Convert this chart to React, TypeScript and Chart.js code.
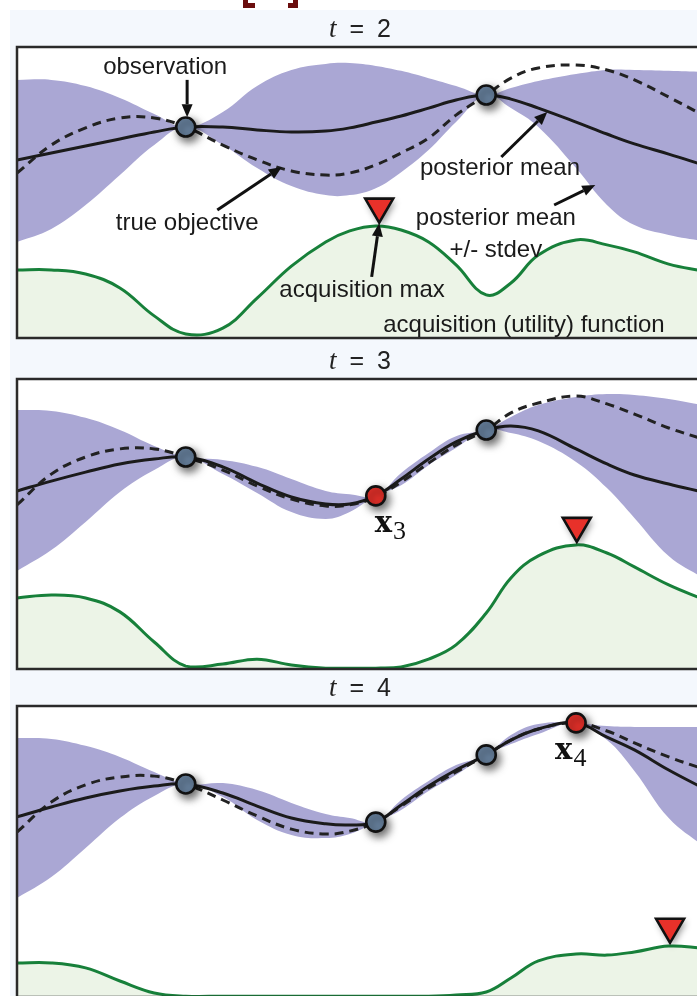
import React, { useEffect, useRef } from "react";
import { Chart, registerables } from "chart.js";

Chart.register(...registerables);

// ---------- data (x: 0..100 across panel, y: 0..100 bottom..top) ----------
const xGrid = [0, 5, 10, 15, 20, 24.6, 30, 35, 40, 45, 48.5, 52.3, 56, 60, 64, 68.4, 72, 76, 81.5, 86, 90, 95, 100];

// t = 2
const p1Upper = [88.7, 88.7, 86.6, 82.5, 77.0, 72.5, 77.7, 86.6, 92.1, 94.2, 94.5, 93.5, 91.8, 89.3, 86.6, 83.5, 85.9, 88.3, 90.7, 92.1, 92.1, 91.8, 91.4];
const p1Lower = [33.0, 37.5, 45.7, 56.0, 66.3, 72.5, 66.3, 58.4, 52.2, 49.1, 49.1, 51.5, 57.0, 64.6, 74.2, 83.5, 79.0, 72.5, 58.4, 45.7, 38.8, 35.4, 33.3];
const p1Mean = [61.2, 63.6, 66.0, 68.4, 70.8, 72.5, 72.5, 71.5, 70.8, 71.1, 72.2, 74.2, 76.3, 79.0, 81.8, 83.5, 82.1, 79.0, 74.2, 70.1, 66.7, 63.2, 59.5];
const p1True = [56.7, 66.3, 72.2, 75.6, 75.6, 72.5, 66.3, 61.2, 57.4, 56.0, 56.7, 59.5, 63.6, 68.7, 76.6, 83.5, 89.3, 92.8, 93.8, 92.1, 88.7, 82.8, 76.6];
const p1Acq = [23.4, 23.4, 22.0, 17.2, 7.6, 1.4, 3.4, 13.7, 24.7, 33.0, 36.8, 38.5, 37.1, 33.0, 25.1, 14.8, 18.9, 28.5, 33.7, 32.0, 29.6, 25.4, 23.0];
const p1ObsX = [24.6, 68.4];
const p1ObsY = [72.5, 83.5];
const p1AcqMax = { x: 52.8, y: 38.6 };

// t = 3
const p2Upper = [89.3, 89.0, 86.6, 82.4, 76.9, 73.1, 72.1, 69.7, 65.5, 61.4, 60.3, 59.7, 67.6, 74.5, 80.3, 82.4, 86.9, 91.0, 93.8, 94.8, 94.5, 93.1, 91.0];
const p2Lower = [33.8, 41.0, 50.7, 61.0, 68.6, 73.1, 67.2, 60.7, 54.1, 51.7, 54.1, 59.7, 63.4, 70.3, 76.2, 82.4, 81.4, 78.6, 71.4, 62.4, 52.1, 39.0, 31.4];
const p2Mean = [61.4, 64.8, 67.9, 70.7, 72.4, 73.1, 69.7, 64.1, 59.3, 56.9, 56.9, 59.7, 65.5, 72.4, 78.3, 82.4, 83.8, 82.1, 75.9, 70.7, 66.9, 63.8, 61.0];
const p2True = [56.6, 67.2, 73.1, 75.9, 75.9, 73.1, 68.6, 63.1, 58.6, 56.2, 56.6, 59.3, 64.5, 71.0, 77.2, 82.4, 88.3, 91.7, 94.1, 91.4, 87.9, 83.1, 79.3];
const p2Acq = [24.5, 25.5, 24.5, 19.7, 9.3, 1.0, 1.7, 3.4, 1.4, 0.3, 0.3, 0.3, 0.7, 3.4, 8.3, 19.3, 31.4, 39.0, 42.8, 40.0, 35.2, 29.0, 24.1];
const p2ObsX = [24.6, 52.3, 68.4];
const p2ObsY = [73.1, 59.7, 82.4];
const p2AcqMax = { x: 81.6, y: 42.8 };

// t = 4
const p3Upper = [89.0, 88.7, 86.3, 82.5, 77.3, 73.2, 73.5, 71.1, 66.7, 62.9, 61.5, 60.1, 67.7, 74.2, 79.7, 83.2, 90.0, 93.8, 94.2, 93.1, 92.8, 92.8, 92.8];
const p3Lower = [34.0, 41.2, 51.2, 61.5, 69.1, 73.2, 68.7, 60.8, 55.7, 54.6, 56.0, 60.1, 64.3, 70.8, 76.3, 83.2, 86.9, 90.4, 94.2, 88.3, 77.7, 61.5, 51.9];
const p3Mean = [61.9, 65.3, 68.4, 70.8, 72.5, 73.2, 70.1, 65.6, 61.5, 59.5, 59.1, 60.1, 66.0, 72.5, 78.0, 83.2, 88.3, 92.1, 94.2, 89.3, 84.9, 78.0, 71.8];
const p3True = [56.7, 67.0, 72.9, 75.6, 75.9, 73.2, 67.7, 62.2, 57.7, 56.0, 57.0, 60.1, 65.6, 71.8, 77.3, 83.2, 88.3, 92.1, 94.2, 91.4, 87.3, 82.5, 78.4];
const p3Acq = [11.7, 11.7, 10.0, 5.5, 1.4, 0.3, 0.3, 0.3, 0.3, 0.3, 0.3, 0.3, 0.3, 0.3, 0.7, 1.7, 6.5, 12.4, 14.8, 14.4, 15.5, 17.5, 16.8];
const p3ObsX = [24.6, 52.3, 68.4, 81.5];
const p3ObsY = [73.2, 60.1, 83.2, 94.2];
const p3AcqMax = { x: 95.2, y: 17.6 };

const titles = ["2", "3", "4"];
const newLabels = ["", "3", "4"];

// annotation texts of first panel (anchored in data units)
const p1Texts = [
  { text: "observation", x: 21.6, y: 93.1 },
  { text: "true objective", x: 24.8, y: 39.5 },
  { text: "posterior mean", x: 70.4, y: 58.4 },
  { text: "posterior mean", x: 69.8, y: 41.2 },
  { text: "+/- stdev", x: 69.8, y: 30.2 },
  { text: "acquisition max", x: 50.3, y: 16.5 },
  { text: "acquisition (utility) function", x: 73.9, y: 4.5 },
];
const p1Arrows = [
  { from: [24.8, 88.7], to: [24.8, 75.9] },
  { from: [29.2, 44.0], to: [38.6, 58.8] },
  { from: [70.6, 62.2], to: [77.3, 77.7] },
  { from: [78.3, 45.7], to: [84.3, 52.6] },
  { from: [51.7, 21.0], to: [52.8, 39.4] },
];

// ---------- styles ----------
const PURPLE = "#aaa7d4";
const GREEN = "#17803a";
const GREEN_FILL = "#ecf4e7";
const OBS = "#6983a0";
const NEW = "#e8312a";
const INK = "#1b1b1b";
const SANS = '"Liberation Sans", Arial, sans-serif';

type PanelSpec = {
  title: string;
  upper: number[];
  lower: number[];
  mean: number[];
  truth: number[];
  acq: number[];
  obsX: number[];
  obsY: number[];
  newIndex: number;
  newLabel: string;
  labelDx: number;
  acqMax: { x: number; y: number };
  texts: { text: string; x: number; y: number }[];
  arrows: { from: number[]; to: number[] }[];
  top: number;
  padTop: number;
  padBottom: number;
};

const panels: PanelSpec[] = [
  { title: titles[0], upper: p1Upper, lower: p1Lower, mean: p1Mean, truth: p1True, acq: p1Acq, obsX: p1ObsX, obsY: p1ObsY, newIndex: -1, newLabel: newLabels[0], labelDx: 0, acqMax: p1AcqMax, texts: p1Texts, arrows: p1Arrows, top: 12, padTop: 35, padBottom: 4 },
  { title: titles[1], upper: p2Upper, lower: p2Lower, mean: p2Mean, truth: p2True, acq: p2Acq, obsX: p2ObsX, obsY: p2ObsY, newIndex: 1, newLabel: newLabels[1], labelDx: -1, acqMax: p2AcqMax, texts: [], arrows: [], top: 345, padTop: 34, padBottom: 6 },
  { title: titles[2], upper: p3Upper, lower: p3Lower, mean: p3Mean, truth: p3True, acq: p3Acq, obsX: p3ObsX, obsY: p3ObsY, newIndex: 3, newLabel: newLabels[2], labelDx: -21, acqMax: p3AcqMax, texts: [], arrows: [], top: 672, padTop: 34, padBottom: 5 },
];

const CANVAS_W = 700;
const CANVAS_H = 330;

function pts(xs: number[], ys: number[]) {
  return xs.map((x, i) => ({ x, y: ys[i] }));
}

function drawArrow(ctx: CanvasRenderingContext2D, x1: number, y1: number, x2: number, y2: number) {
  const ang = Math.atan2(y2 - y1, x2 - x1);
  const head = 13;
  const half = 5.5;
  const bx = x2 - head * Math.cos(ang);
  const by = y2 - head * Math.sin(ang);
  ctx.beginPath();
  ctx.moveTo(x1, y1);
  ctx.lineTo(bx, by);
  ctx.lineWidth = 3;
  ctx.strokeStyle = "#111";
  ctx.stroke();
  ctx.beginPath();
  ctx.moveTo(x2, y2);
  ctx.lineTo(bx + half * Math.sin(ang), by - half * Math.cos(ang));
  ctx.lineTo(bx - half * Math.sin(ang), by + half * Math.cos(ang));
  ctx.closePath();
  ctx.fillStyle = "#111";
  ctx.fill();
}

function makeDecor(p: PanelSpec) {
  return {
    id: "decor",
    beforeDraw(chart: any) {
      const { ctx, chartArea: a } = chart;
      ctx.save();
      ctx.fillStyle = "#ffffff";
      ctx.fillRect(a.left, a.top, a.right - a.left, a.bottom - a.top);
      ctx.restore();
    },
    beforeDatasetDraw(chart: any, args: any) {
      const ds = chart.data.datasets[args.index];
      if (ds.shadow) {
        const ctx = chart.ctx;
        ctx.save();
        ctx.shadowColor = "rgba(0,0,0,0.6)";
        ctx.shadowBlur = 9;
        ctx.shadowOffsetX = 3;
        ctx.shadowOffsetY = 4;
      }
    },
    afterDatasetDraw(chart: any, args: any) {
      const ds = chart.data.datasets[args.index];
      if (ds.shadow) chart.ctx.restore();
    },
    afterDatasetsDraw(chart: any) {
      const { ctx, chartArea: a, scales } = chart;
      const X = (v: number) => scales.x.getPixelForValue(v);
      const Y = (v: number) => scales.y.getPixelForValue(v);

      // acquisition max marker
      const tx = X(p.acqMax.x);
      const ty = Y(p.acqMax.y) - 3;
      ctx.save();
      ctx.shadowColor = "rgba(0,0,0,0.45)";
      ctx.shadowBlur = 7;
      ctx.shadowOffsetX = 2;
      ctx.shadowOffsetY = 3;
      ctx.beginPath();
      ctx.moveTo(tx, ty);
      ctx.lineTo(tx - 14, ty - 24);
      ctx.lineTo(tx + 14, ty - 24);
      ctx.closePath();
      ctx.fillStyle = NEW;
      ctx.fill();
      ctx.shadowColor = "transparent";
      ctx.lineWidth = 2.6;
      ctx.lineJoin = "miter";
      ctx.strokeStyle = "#111";
      ctx.stroke();
      ctx.restore();

      // frame
      ctx.save();
      ctx.strokeStyle = "#2a2a2a";
      ctx.lineWidth = 2.5;
      ctx.strokeRect(a.left, a.top, a.right - a.left, a.bottom - a.top);
      ctx.restore();

      // title "t = n"
      ctx.save();
      ctx.fillStyle = "#222";
      ctx.textBaseline = "alphabetic";
      const base = a.top - 10;
      const cx = (a.left + a.right) / 2;
      const fT = 'italic 27px "Liberation Serif", serif';
      const fS = "25px " + SANS;
      ctx.font = fT;
      const wT = ctx.measureText("t").width;
      ctx.font = fS;
      const wE = ctx.measureText("=").width;
      const wN = ctx.measureText(p.title).width;
      const gap = 13;
      const total = wT + gap + wE + gap + wN;
      let x0 = cx - total / 2;
      ctx.font = fT;
      ctx.fillText("t", x0, base);
      x0 += wT + gap;
      ctx.font = fS;
      ctx.fillText("=", x0, base);
      x0 += wE + gap;
      ctx.fillText(p.title, x0, base);
      ctx.restore();

      // new point label x_t
      if (p.newIndex >= 0) {
        const px = X(p.obsX[p.newIndex]);
        const py = Y(p.obsY[p.newIndex]);
        ctx.save();
        ctx.fillStyle = "#111";
        ctx.textBaseline = "alphabetic";
        ctx.font = 'bold 29px "DejaVu Serif", serif';
        const lx = px + p.labelDx;
        ctx.fillText("x", lx, py + 36);
        const wx = ctx.measureText("x").width;
        ctx.font = '26px "Liberation Serif", serif';
        ctx.fillText(p.newLabel, lx + wx + 1, py + 43);
        ctx.restore();
      }

      // annotations
      ctx.save();
      for (const ar of p.arrows) {
        drawArrow(ctx, X(ar.from[0]), Y(ar.from[1]), X(ar.to[0]), Y(ar.to[1]));
      }
      ctx.fillStyle = "#1a1a1a";
      ctx.font = "24px " + SANS;
      ctx.textAlign = "center";
      ctx.textBaseline = "middle";
      for (const t of p.texts) {
        ctx.fillText(t.text, X(t.x), Y(t.y));
      }
      ctx.restore();
    },
  };
}

function Panel({ p }: { p: PanelSpec }) {
  const ref = useRef<HTMLCanvasElement | null>(null);
  useEffect(() => {
    if (!ref.current) return;
    const common = { pointRadius: 0, tension: 0.4 };
    const obsColors = p.obsX.map((_, i) => (i === p.newIndex ? NEW : OBS));
    const chart = new Chart(ref.current, {
      type: "line",
      data: {
        datasets: [
          { ...common, label: "upper", data: pts(xGrid, p.upper), borderWidth: 0, borderColor: PURPLE, backgroundColor: PURPLE, fill: "+1", order: 6 },
          { ...common, label: "lower", data: pts(xGrid, p.lower), borderWidth: 0, borderColor: PURPLE, fill: false, order: 5 },
          { ...common, label: "acquisition", data: pts(xGrid, p.acq), borderColor: GREEN, borderWidth: 3, backgroundColor: GREEN_FILL, fill: "origin", order: 4 },
          { ...common, label: "true objective", data: pts(xGrid, p.truth), borderColor: "#222", borderWidth: 3, borderDash: [9, 6], fill: false, order: 3 },
          { ...common, label: "posterior mean", data: pts(xGrid, p.mean), borderColor: INK, borderWidth: 3, fill: false, order: 2 },
          {
            label: "observations",
            data: pts(p.obsX, p.obsY),
            showLine: false,
            pointRadius: 9.5,
            pointBackgroundColor: obsColors,
            pointBorderColor: "#111",
            pointBorderWidth: 2.6,
            order: 1,
            shadow: true,
          } as any,
        ],
      },
      options: {
        animation: false,
        responsive: false,
        maintainAspectRatio: false,
        events: [],
        layout: { autoPadding: false, padding: { left: 8, right: CANVAS_W - 8 - 686, top: p.padTop, bottom: p.padBottom } } as any,
        scales: {
          x: { type: "linear", min: 0, max: 100, display: false },
          y: { type: "linear", min: 0, max: 100, display: false },
        },
        plugins: { legend: { display: false }, tooltip: { enabled: false }, title: { display: false } },
      },
      plugins: [makeDecor(p)],
    });
    return () => chart.destroy();
  }, [p]);
  return (
    <canvas
      ref={ref}
      width={CANVAS_W}
      height={CANVAS_H}
      style={{ position: "absolute", left: 9, top: p.top, width: CANVAS_W, height: CANVAS_H }}
    />
  );
}

export default function App() {
  return (
    <div style={{ position: "absolute", left: 0, top: 0, width: 697, height: 996, overflow: "hidden", background: "#ffffff" }}>
      <div style={{ position: "absolute", left: 10, top: 10, right: 0, bottom: 0, background: "#f4f8fd" }} />
      <div style={{ position: "absolute", left: 243, top: 0, width: 5, height: 8, background: "#6b0d0d" }} />
      <div style={{ position: "absolute", left: 243, top: 3, width: 12, height: 5, background: "#6b0d0d" }} />
      <div style={{ position: "absolute", left: 293, top: 0, width: 5, height: 8, background: "#6b0d0d" }} />
      <div style={{ position: "absolute", left: 288, top: 3, width: 10, height: 5, background: "#6b0d0d" }} />
      {panels.map((p, i) => (
        <Panel key={i} p={p} />
      ))}
    </div>
  );
}
